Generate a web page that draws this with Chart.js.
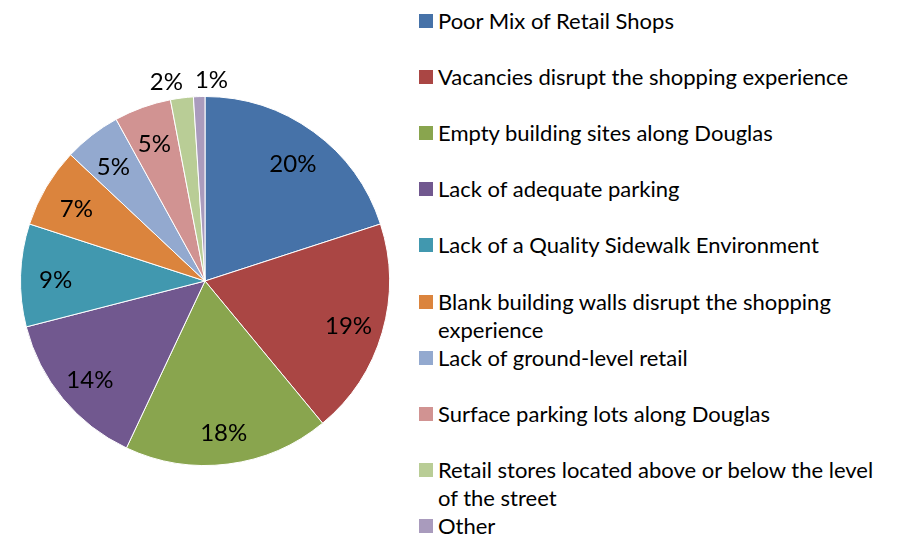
<!DOCTYPE html>
<html>
<head>
<meta charset="utf-8">
<script src="https://cdn.jsdelivr.net/npm/chart.js@4.4.0/dist/chart.umd.min.js"></script>
<style>
  body { margin: 0; background: #fff; }
  #wrap { position: relative; width: 903px; height: 535px; overflow: hidden; font-family: Lato, "Open Sans", sans-serif; }
  #chart-box { position: absolute; left: 0; top: 0; width: 410px; height: 535px; }
  #legend { position: absolute; left: 419px; top: 0; width: 484px; height: 535px; }
  .legend__item { position: absolute; left: 0; padding-left: 19px; font-size: 22px; line-height: 28.5px; color: #000; white-space: nowrap; }
  .legend__box { position: absolute; left: 0; top: 7px; width: 14px; height: 14px; }
</style>
</head>
<body>
<div id="wrap">
  <div id="chart-box"><canvas id="pie"></canvas></div>
  <div id="legend"></div>
</div>
<script>
// categories (wrapped ones are split into lines like the original legend)
const categories = [
  "Poor Mix of Retail Shops",
  "Vacancies disrupt the shopping experience",
  "Empty building sites along Douglas",
  "Lack of adequate parking",
  "Lack of a Quality Sidewalk Environment",
  ["Blank building walls disrupt the shopping", "experience"],
  "Lack of ground-level retail",
  "Surface parking lots along Douglas",
  ["Retail stores located above or below the level", "of the street"],
  "Other"
];
const shares = [20, 19, 18, 14, 9, 7, 5, 5, 2, 1];
const sliceColors = [
  "#4672A8", "#AA4644", "#89A54E", "#71588F", "#4198AF",
  "#DB843D", "#93A9CF", "#D19392", "#B9CD96", "#A99BBD"
];

const labelFont = "24px Lato";

// percent labels: inside for big slices, outside (spread apart) for tiny ones
const percentLabels = {
  id: "percentLabels",
  afterDatasetsDraw(chart) {
    const ctx = chart.ctx;
    const meta = chart.getDatasetMeta(0);
    const total = shares.reduce((a, b) => a + b, 0);
    ctx.save();
    ctx.font = labelFont;
    ctx.fillStyle = "#000";
    ctx.textAlign = "center";
    ctx.textBaseline = "middle";
    const outside = [];
    meta.data.forEach((arc, i) => {
      const p = arc.getProps(["x", "y", "startAngle", "endAngle", "outerRadius"], true);
      const mid = (p.startAngle + p.endAngle) / 2;
      const pct = Math.round((shares[i] / total) * 100);
      const small = pct < 3;
      const r = p.outerRadius * (small ? 1.11 : 0.81);
      const lbl = { text: pct + "%", x: p.x + Math.cos(mid) * r, y: p.y + Math.sin(mid) * r + 4 };
      if (small) outside.push(lbl);
      else ctx.fillText(lbl.text, lbl.x, lbl.y);
    });
    outside.sort((a, b) => a.x - b.x);
    for (let k = 1; k < outside.length; k++) {
      const a = outside[k - 1], b = outside[k];
      const need = (ctx.measureText(a.text).width + ctx.measureText(b.text).width) / 2 + 12;
      const gap = b.x - a.x;
      if (gap < need) {
        const push = (need - gap) / 2;
        a.x -= push;
        b.x += push;
      }
    }
    outside.forEach((l) => ctx.fillText(l.text, l.x, l.y));
    ctx.restore();
  }
};

new Chart(document.getElementById("pie").getContext("2d"), {
  type: "pie",
  data: {
    labels: categories,
    datasets: [{
      data: shares,
      backgroundColor: sliceColors,
      borderColor: "#fff",
      borderWidth: 1,
      hoverOffset: 0
    }]
  },
  options: {
    responsive: true,
    maintainAspectRatio: false,
    animation: false,
    layout: { padding: { left: 20, top: 96, right: 20, bottom: 69 } },
    plugins: {
      legend: { display: false },
      tooltip: { enabled: false }
    }
  },
  plugins: [percentLabels]
});

// legend on the right, one fixed slot per item
const legend = document.getElementById("legend");
categories.forEach((cat, i) => {
  const item = document.createElement("div");
  item.className = "legend__item";
  item.style.top = (7 + i * 56.1) + "px";
  const box = document.createElement("span");
  box.className = "legend__box";
  box.style.background = sliceColors[i];
  item.appendChild(box);
  const lines = Array.isArray(cat) ? cat : [cat];
  lines.forEach((line, j) => {
    if (j > 0) item.appendChild(document.createElement("br"));
    item.appendChild(document.createTextNode(line));
  });
  legend.appendChild(item);
});
</script>
</body>
</html>
